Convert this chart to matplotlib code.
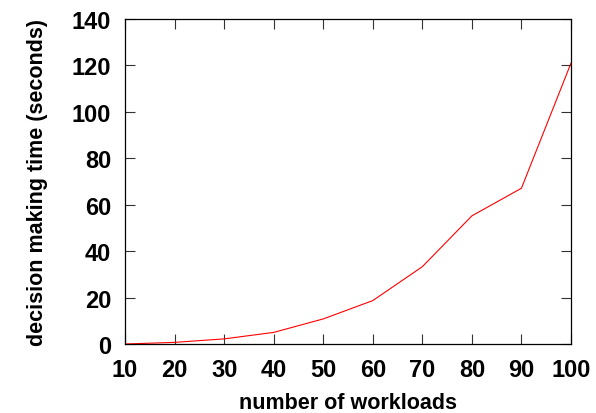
import matplotlib
matplotlib.use("Agg")
import matplotlib.pyplot as plt

workloads = [10, 20, 30, 40, 50, 60, 70, 80, 90, 100]
decision_time = [0.0, 0.7, 2.2, 5.0, 10.8, 18.7, 33.3, 55.2, 67.1, 121.0]
xticks = [10, 20, 30, 40, 50, 60, 70, 80, 90, 100]
yticks = [0, 20, 40, 60, 80, 100, 120, 140]

plt.rcParams['font.family'] = ['Liberation Sans', 'DejaVu Sans']
plt.rcParams['font.weight'] = 'bold'

fig = plt.figure(figsize=(5.96, 4.14), dpi=100)
ax = fig.add_axes([125/596, 1-345/414, (571-125)/596, (345-20)/414])
ax.plot(workloads, decision_time, color='#ff0000', linewidth=0.8)
ax.set_xlim(10, 100)
ax.set_ylim(0, 140)
ax.set_xticks(xticks)
ax.set_yticks(yticks)
ax.tick_params(direction='in', length=7, width=0.8, top=True, right=True,
               labelsize=17, pad=10, color='#333333')
for lab in ax.get_xticklabels() + ax.get_yticklabels():
    lab.set_fontweight('bold')
for s in ax.spines.values():
    s.set_linewidth(0.9)
ax.set_xlabel('number of workloads', fontsize=15.5, fontweight='bold', labelpad=8)
ax.set_ylabel('decision making time (seconds)', fontsize=15.5, fontweight='bold', labelpad=17)
fig.savefig('out.png', dpi=100)
